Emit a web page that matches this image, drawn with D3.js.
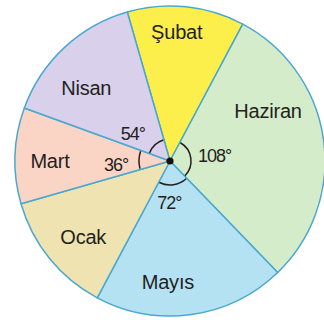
<!DOCTYPE html>
<html>
<head>
<meta charset="utf-8">
<script src="https://cdn.jsdelivr.net/npm/d3@7"></script>
<style>
  html, body { margin: 0; padding: 0; background: #fff; }
  svg { display: block; }
  text { font-family: "Liberation Sans", Arial, sans-serif; fill: #231f20; }
</style>
</head>
<body>
<svg id="chart" width="324" height="320"></svg>
<script>
// Months, clockwise from the top
const months = ["Şubat", "Haziran", "Mayıs", "Ocak", "Mart", "Nisan"];
// Central angle of each slice, in degrees
const degrees = [44, 108, 72, 46, 36, 54];
// Slices whose angle is written next to the centre
const markedAngles = ["Haziran", "Mayıs", "Mart", "Nisan"];

const palette = ["#fcef4c", "#d4ecca", "#b5e2f3", "#efe3b2", "#fad5c6", "#d9d0ec"];

const width = 324, height = 320;
const cx = 170, cy = 161, radius = 155;
const rad = d => d * Math.PI / 180;

const svg = d3.select("#chart");
const g = svg.append("g").attr("transform", `translate(${cx},${cy})`);

const color = d3.scaleOrdinal().domain(months).range(palette);

const startDeg = -16;
const pie = d3.pie()
  .sort(null)
  .value((d, i) => degrees[i])
  .startAngle(rad(startDeg))
  .endAngle(rad(startDeg + 360));

const arcs = pie(months);
const arc = d3.arc().innerRadius(0).outerRadius(radius);

g.selectAll("path.slice")
  .data(arcs)
  .join("path")
  .attr("class", "slice")
  .attr("d", arc)
  .attr("fill", d => color(d.data))
  .attr("stroke", "#4aa8d0")
  .attr("stroke-width", 1.5)
  .attr("stroke-linejoin", "round");

// polar helper: angle measured clockwise from 12 o'clock
const polar = (aDeg, r) => [r * Math.sin(rad(aDeg)), -r * Math.cos(rad(aDeg))];

// Month name placement: shift from slice middle (deg) and distance from centre
const nameLayout = {
  "Şubat":   [-3, 129],
  "Haziran": [-19, 110],
  "Mayıs":   [9, 121],
  "Ocak":    [-2, 115],
  "Mart":    [-2, 120],
  "Nisan":   [-6, 111]
};

g.selectAll("text.name")
  .data(arcs)
  .join("text")
  .attr("class", "name")
  .attr("text-anchor", "middle")
  .attr("dy", "0.36em")
  .attr("font-size", 20)
  .attr("letter-spacing", -0.2)
  .attr("transform", d => {
    const mid = (d.startAngle + d.endAngle) / 2 * 180 / Math.PI;
    const [da, r] = nameLayout[d.data];
    const [x, y] = polar(mid + da, r);
    return `translate(${x},${y})`;
  })
  .text(d => d.data);

// Angle marks: small arcs around the centre with the degree value
const angleLayout = {
  "Haziran": { r: 21, labelShift: 1, labelR: 45 },
  "Mayıs":   { r: 24, labelShift: 9, labelR: 42 },
  "Mart":    { r: 31, labelShift: -6, labelR: 54 },
  "Nisan":   { r: 22, labelShift: -11, labelR: 46 }
};

const marked = arcs.filter(d => markedAngles.includes(d.data));

g.selectAll("path.angle")
  .data(marked)
  .join("path")
  .attr("class", "angle")
  .attr("d", d => {
    const r = angleLayout[d.data].r;
    return d3.arc().innerRadius(r).outerRadius(r)
      .startAngle(d.startAngle + 0.03).endAngle(d.endAngle - 0.03)();
  })
  .attr("fill", "none")
  .attr("stroke", "#231f20")
  .attr("stroke-width", 1.5);

g.selectAll("text.deg")
  .data(marked)
  .join("text")
  .attr("class", "deg")
  .attr("text-anchor", "middle")
  .attr("dy", "0.36em")
  .attr("font-size", 18)
  .attr("letter-spacing", -1)
  .attr("transform", d => {
    const mid = (d.startAngle + d.endAngle) / 2 * 180 / Math.PI;
    const L = angleLayout[d.data];
    const [x, y] = polar(mid + L.labelShift, L.labelR);
    return `translate(${x},${y})`;
  })
  .text(d => `${d.value}°`);

// centre point
g.append("circle").attr("r", 3.6).attr("fill", "#111");
</script>
</body>
</html>
